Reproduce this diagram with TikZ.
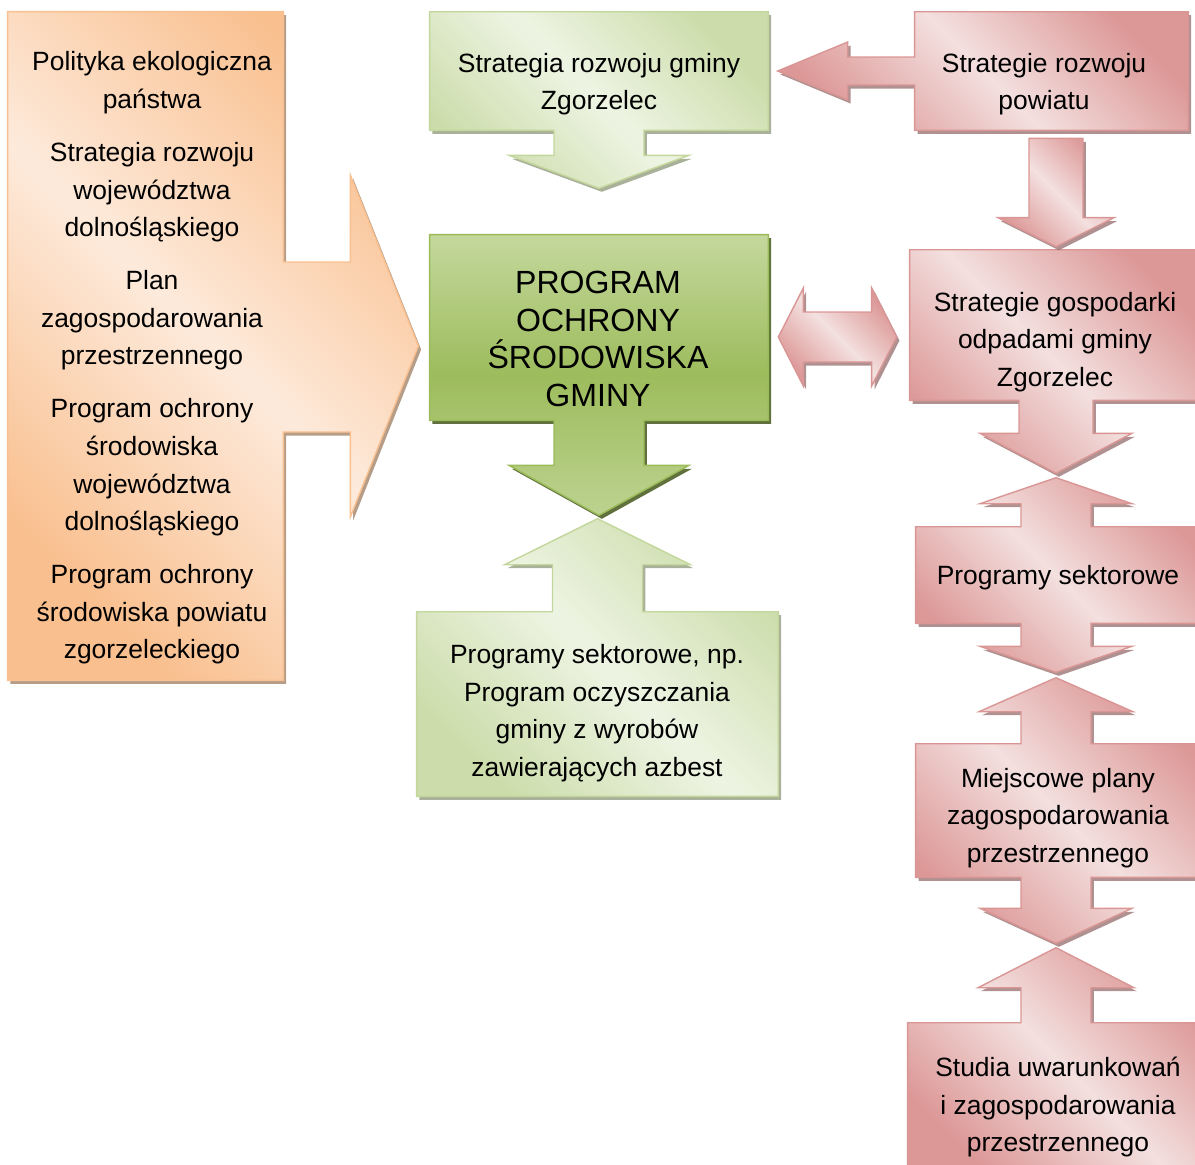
\documentclass[tikz,border=0pt]{standalone}
\usepackage{fontspec}
\setmainfont{Liberation Sans}
\usetikzlibrary{positioning,calc,shadows}

\definecolor{orDark}{HTML}{F9BF8E}
\definecolor{orLight}{HTML}{FDEADB}
\definecolor{orLine}{HTML}{FAC090}
\definecolor{gnDark}{HTML}{CCDDAB}
\definecolor{gnLight}{HTML}{EEF4E3}
\definecolor{gnLine}{HTML}{C3D69B}
\definecolor{gmTop}{HTML}{C4D89D}
\definecolor{gmMid}{HTML}{9DBC5C}
\definecolor{gmLine}{HTML}{9BBB59}
\definecolor{gmShadow}{HTML}{4F6228}
\definecolor{pkDark}{HTML}{DC9897}
\definecolor{pkLight}{HTML}{F3E0DF}
\definecolor{pkLine}{HTML}{D99694}

\tikzset{
	frame/.style={rectangle,inner sep=0pt},
	txt/.style={align=center,inner sep=0pt,font=\fontsize{18.8}{26.7}\selectfont},
	orshape/.style={draw=orLine,line width=1pt,top color=orDark,bottom color=orDark,middle color=orLight,shading angle=-45,
		drop shadow={shadow xshift=2pt,shadow yshift=-2.5pt,fill=black!40!orDark,opacity=.7}},
	gnshape/.style={draw=gnLine,line width=1pt,top color=gnDark,bottom color=gnDark,middle color=gnLight,shading angle=-45,
		drop shadow={shadow xshift=2pt,shadow yshift=-2.5pt,fill=black!35!gnDark,opacity=.7}},
	gmshape/.style={draw=gmLine,line width=1pt,top color=gmTop,bottom color=gmTop!80!gmMid,middle color=gmMid,
		drop shadow={shadow xshift=2pt,shadow yshift=-2.5pt,fill=gmShadow,opacity=.9}},
	pkshape/.style={draw=pkLine,line width=1pt,top color=pkDark,bottom color=pkDark,middle color=pkLight,shading angle=-45,
		drop shadow={shadow xshift=2pt,shadow yshift=-2.5pt,fill=black!35!pkDark,opacity=.7}}
}

\begin{document}
\begin{tikzpicture}[x=0.025cm,y=-0.025cm]

	\useasboundingbox (0,0) rectangle (1195,1164);

	%frames (sizes in px, 1px = 0.025cm)
	\node[frame,minimum width=6.875cm,minimum height=16.7cm] (pol) at (145.5,346) {};
	\node[frame,minimum width=8.45cm,minimum height=2.95cm] (srg) at (599,71) {};
	\node[frame,minimum width=8.45cm,minimum height=4.625cm] (pos) at (599,327.5) {};
	\node[frame,minimum width=9.025cm,minimum height=4.6cm] (psg) at (597.5,704) {};
	\node[frame,minimum width=6.825cm,minimum height=2.95cm] (spr) at (1051.5,71) {};
	\node[frame,minimum width=7.3cm,minimum height=3.75cm] (sgo) at (1056,325) {};
	\node[frame,minimum width=7cm,minimum height=2.4cm] (psr) at (1056,575) {};
	\node[frame,minimum width=7cm,minimum height=3.325cm] (mpz) at (1056,810.5) {};
	\node[frame,minimum width=7.4cm,minimum height=3.675cm] (suz) at (1056,1096.5) {};

	%left callout
	\path[orshape] (pol.north west) -- (pol.north east) -- ($(pol.east)+(0,-84)$) -- ++(67,0) -- ++(0,-87)
		-- ($(pol.east)+(135,0)$) -- ($(pol.east)+(67,171)$) -- ++(0,-85) -- ++(-67,0)
		-- (pol.south east) -- (pol.south west) -- cycle;

	%middle callouts
	\path[gnshape] (srg.north west) -- (srg.north east) -- (srg.south east) -- ($(srg.south)+(45,0)$) -- ++(0,25) -- ++(45,0)
		-- ($(srg.south)+(0,58)$) -- ($(srg.south)+(-90,25)$) -- ++(45,0) -- ++(0,-25) -- (srg.south west) -- cycle;
	\path[gmshape] (pos.north west) -- (pos.north east) -- (pos.south east) -- ($(pos.south)+(45,0)$) -- ++(0,45) -- ++(45,0)
		-- ($(pos.south)+(0,95)$) -- ($(pos.south)+(-90,45)$) -- ++(45,0) -- ++(0,-45) -- (pos.south west) -- cycle;
	\path[gnshape] (psg.south west) -- (psg.south east) -- (psg.north east) -- ($(psg.north)+(45,0)$) -- ++(0,-47) -- ++(48,0)
		-- ($(psg.north)+(0,-93)$) -- ($(psg.north)+(-93,-47)$) -- ++(48,0) -- ++(0,47) -- (psg.north west) -- cycle;

	%right callouts
	\path[pkshape] (spr.north west) -- (spr.north east) -- (spr.south east) -- (spr.south west) -- ($(spr.west)+(0,14)$)
		-- ++(-67,0) -- ++(0,15) -- ($(spr.west)+(-137,0)$) -- ($(spr.west)+(-67,-29)$) -- ++(0,15) -- ++(67,0) -- cycle;
	\path[pkshape] (sgo.north west) -- (sgo.north east) -- (sgo.south east) -- ($(sgo.south)+(37,0)$) -- ++(0,33) -- ++(39,0)
		-- ($(sgo.south)+(0,73)$) -- ($(sgo.south)+(-76,33)$) -- ++(39,0) -- ++(0,-33) -- (sgo.south west) -- cycle;
	\path[pkshape] (psr.north west) -- ($(psr.north)+(-35,0)$) -- ++(0,-23) -- ++(-41,0) -- ($(psr.north)+(0,-49)$)
		-- ($(psr.north)+(76,-23)$) -- ++(-41,0) -- ++(0,23) -- (psr.north east) -- (psr.south east)
		-- ($(psr.south)+(35,0)$) -- ++(0,23) -- ++(41,0) -- ($(psr.south)+(0,49)$) -- ($(psr.south)+(-76,23)$)
		-- ++(41,0) -- ++(0,-23) -- (psr.south west) -- cycle;
	\path[pkshape] (mpz.north west) -- ($(mpz.north)+(-35,0)$) -- ++(0,-32) -- ++(-42,0) -- ($(mpz.north)+(0,-66)$)
		-- ($(mpz.north)+(77,-32)$) -- ++(-42,0) -- ++(0,32) -- (mpz.north east) -- (mpz.south east)
		-- ($(mpz.south)+(35,0)$) -- ++(0,31) -- ++(41,0) -- ($(mpz.south)+(0,66)$) -- ($(mpz.south)+(-76,31)$)
		-- ++(41,0) -- ++(0,-31) -- (mpz.south west) -- cycle;
	\path[pkshape] (suz.south west) -- (suz.north west) -- ($(suz.north)+(-35,0)$) -- ++(0,-35) -- ++(-43,0)
		-- ($(suz.north)+(0,-75)$) -- ($(suz.north)+(78,-35)$) -- ++(-43,0) -- ++(0,35) -- (suz.north east)
		-- (suz.south east) -- cycle;

	%connectors
	\coordinate (d1) at (spr.south -| sgo.north);
	\path[pkshape] ($(d1)+(-27,8)$) -- ($(d1)+(27,8)$) -- ($(sgo.north)+(27,-32)$) -- ++(31,0) -- ($(sgo.north)+(0,-3)$)
		-- ($(sgo.north)+(-58,-32)$) -- ++(31,0) -- cycle;
	\coordinate (dl) at ($(pos.east)+(10,9.5)$);
	\coordinate (dr) at ($(sgo.west)+(-13,12)$);
	\path[pkshape] (dl) -- ++(25,-49) -- ++(0,24) -- ($(dr)+(-25,-25)$) -- ++(0,-24) -- (dr) -- ++(-25,49) -- ++(0,-24)
		-- ($(dl)+(25,25)$) -- ++(0,24) -- cycle;

	%texts
	\node[txt] (tpol) at (152,358) {Polityka ekologiczna\\państwa\\[0.39cm]
		Strategia rozwoju\\województwa\\dolnośląskiego\\[0.39cm]
		Plan\\zagospodarowania\\przestrzennego\\[0.39cm]
		Program ochrony\\środowiska\\województwa\\dolnośląskiego\\[0.39cm]
		Program ochrony\\środowiska powiatu\\zgorzeleckiego};
	\node[txt] (tsrg) at (599,84) {Strategia rozwoju gminy\\Zgorzelec};
	\node[txt,font=\fontsize{22.8}{26.7}\selectfont] (tpos) at (598,339) {PROGRAM\\OCHRONY\\ŚRODOWISKA\\GMINY};
	\node[txt] (tpsg) at (597,713) {Programy sektorowe, np.\\Program oczyszczania\\gminy z wyrobów\\zawierających azbest};
	\node[txt] (tspr) at (1044,84) {Strategie rozwoju\\powiatu};
	\node[txt] (tsgo) at (1055,342) {Strategie gospodarki\\odpadami gminy\\Zgorzelec};
	\node[txt] (tpsr) at (1058,578) {Programy sektorowe};
	\node[txt] (tmpz) at (1058,818) {Miejscowe plany\\zagospodarowania\\przestrzennego};
	\node[txt] (tsuz) at (1058,1107) {Studia uwarunkowań\\i zagospodarowania\\przestrzennego};

\end{tikzpicture}
\end{document}
